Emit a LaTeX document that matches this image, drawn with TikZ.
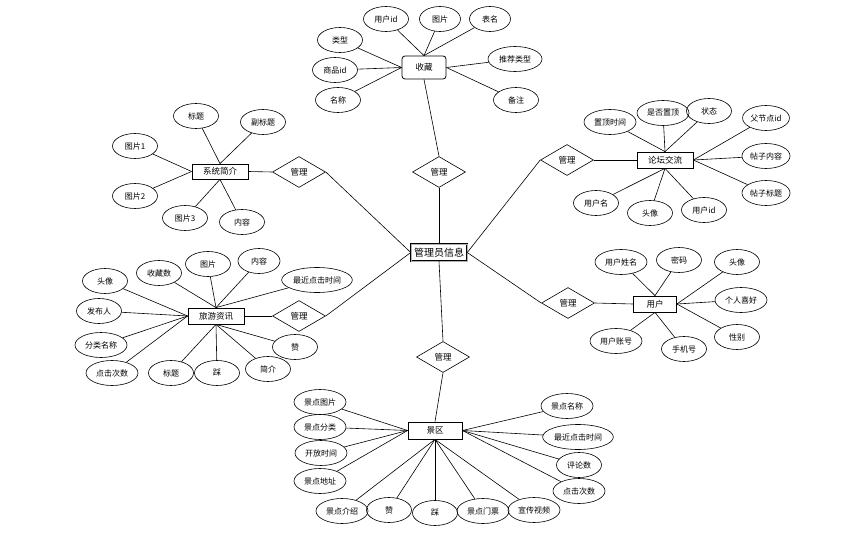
\documentclass[tikz,border=0pt]{standalone}
\usepackage{fontspec}
\newfontfamily\cjk{Noto Sans CJK SC}
\usepackage{tikz}
\usetikzlibrary{shapes.geometric}

\begin{document}
\begin{tikzpicture}[x=1pt, y=-1pt,
  every node/.style={font=\cjk\fontsize{8}{9}\selectfont},
  attr/.style={draw, ellipse, line width=0.6pt, minimum width=45pt, minimum height=25pt, inner sep=1pt},
  ent/.style={draw, rectangle, line width=0.8pt, minimum width=56pt, minimum height=16pt, inner sep=1pt, font=\cjk\fontsize{8.5}{9}\selectfont},
  rel/.style={draw, diamond, line width=0.6pt, minimum width=53pt, minimum height=31pt, inner sep=0pt, font=\cjk\fontsize{8.5}{9}\selectfont},
  link/.style={line width=0.6pt}]
  \useasboundingbox (0,0) rectangle (844,535);

  % centre
  \node[ent, line width=0.5pt, double=gray!60, double distance=0.6pt, minimum width=56pt, minimum height=17pt, font=\cjk\fontsize{10}{11}\selectfont] (admin) at (439,252.5) {管理员信息};

  % relationships
  \node[rel] (r1) at (439,172) {管理};
  \node[rel] (r2) at (299,172) {管理};
  \node[rel] (r3) at (299,316) {管理};
  \node[rel] (r4) at (443,357) {管理};
  \node[rel] (r5) at (567,160) {管理};
  \node[rel] (r6) at (568,303) {管理};

  % entities
  \node[ent, rounded corners=3pt, minimum width=44pt, minimum height=23pt] (fav) at (424,67.5) {收藏};
  \node[ent, minimum height=15pt] (intro) at (220,171.5) {系统简介};
  \node[ent] (forum) at (665,160) {论坛交流};
  \node[ent] (news) at (216,316) {旅游资讯};
  \node[ent, minimum width=43pt] (user) at (655,304) {用户};
  \node[ent, minimum width=54pt, minimum height=17pt] (spot) at (435,430.5) {景区};

  % main links
  \draw[link] (admin.north) -- (r1.south);
  \draw[link] (r1.north) -- (fav.south);
  \draw[link] (admin.west) -- (r2.east);
  \draw[link] (r2.west) -- (intro.east);
  \draw[link] (admin.west) -- (r3.east);
  \draw[link] (r3.west) -- (news.east);
  \draw[link] (admin.south) -- (r4.north);
  \draw[link] (r4.south) -- (spot.north);
  \draw[link] (admin.east) -- (r5.west);
  \draw[link] (r5.east) -- (forum.west);
  \draw[link] (admin.east) -- (r6.west);
  \draw[link] (r6.east) -- (user.west);

  % 收藏
  \node[attr] (f1) at (386,19) {用户id};
  \node[attr, minimum width=41pt] (f2) at (440,19) {图片};
  \node[attr, minimum width=41pt] (f3) at (490,19) {表名};
  \node[attr] (f4) at (340,40) {类型};
  \node[attr] (f5) at (335,70) {商品id};
  \node[attr] (f6) at (338,100) {名称};
  \node[attr, minimum width=54pt] (f7) at (515,59) {推荐类型};
  \node[attr] (f8) at (516,100) {备注};
  \foreach \a in {f1,f2,f3} \draw[link] (fav.north) -- (\a);
  \foreach \a in {f4,f5,f6} \draw[link] (fav.west) -- (\a);
  \foreach \a in {f7,f8} \draw[link] (fav.east) -- (\a);

  % 系统简介
  \node[attr] (i1) at (196,116) {标题};
  \node[attr] (i2) at (263,122) {副标题};
  \node[attr] (i3) at (135,146) {图片1};
  \node[attr] (i4) at (135,196) {图片2};
  \node[attr] (i5) at (185,218) {图片3};
  \node[attr] (i6) at (242,222) {内容};
  \foreach \a in {i1,i2} \draw[link] (intro.north) -- (\a);
  \foreach \a in {i3,i4} \draw[link] (intro.west) -- (\a);
  \foreach \a in {i5,i6} \draw[link] (intro.south) -- (\a);

  % 论坛交流
  \node[attr, minimum width=52pt] (b1) at (610,122) {置顶时间};
  \node[attr, minimum width=52pt] (b2) at (663,113) {是否置顶};
  \node[attr] (b3) at (709,111) {状态};
  \node[attr] (b4) at (766,118) {父节点id};
  \node[attr] (b5) at (766,156) {帖子内容};
  \node[attr] (b6) at (766,193) {帖子标题};
  \node[attr] (b7) at (596,203) {用户名};
  \node[attr] (b8) at (650,213) {头像};
  \node[attr] (b9) at (704,210) {用户id};
  \foreach \a in {b1,b2,b3} \draw[link] (forum.north) -- (\a);
  \foreach \a in {b4,b5,b6} \draw[link] (forum.east) -- (\a);
  \foreach \a in {b7,b8,b9} \draw[link] (forum.south) -- (\a);

  % 旅游资讯
  \node[attr] (n1) at (105,281) {头像};
  \node[attr] (n2) at (159,273) {收藏数};
  \node[attr] (n3) at (208,264) {图片};
  \node[attr, minimum width=42pt] (n4) at (259,261) {内容};
  \node[attr, minimum width=67pt] (n5) at (317,280) {最近点击时间};
  \node[attr] (n6) at (99,311) {发布人};
  \node[attr, minimum width=52pt] (n7) at (101,345) {分类名称};
  \node[attr, minimum width=52pt] (n8) at (112,373) {点击次数};
  \node[attr] (n9) at (171,373) {标题};
  \node[attr] (n10) at (217,373) {踩};
  \node[attr] (n11) at (268,369) {简介};
  \node[attr] (n12) at (295,347) {赞};
  \foreach \a in {n1,n6,n7,n8} \draw[link] (news.west) -- (\a);
  \foreach \a in {n2,n3,n4,n5} \draw[link] (news.north) -- (\a);
  \foreach \a in {n9,n10,n11,n12} \draw[link] (news.south) -- (\a);

  % 用户
  \node[attr, minimum width=52pt] (u1) at (621,262) {用户姓名};
  \node[attr] (u2) at (679,260) {密码};
  \node[attr] (u3) at (737,262) {头像};
  \node[attr, minimum width=52pt] (u4) at (741,300) {个人喜好};
  \node[attr] (u5) at (737,337) {性别};
  \node[attr] (u6) at (684,349) {手机号};
  \node[attr, minimum width=52pt] (u7) at (616,341) {用户账号};
  \foreach \a in {u1,u2} \draw[link] (user.north) -- (\a);
  \foreach \a in {u3,u4,u5} \draw[link] (user.east) -- (\a);
  \foreach \a in {u6,u7} \draw[link] (user.south) -- (\a);

  % 景区
  \node[attr, minimum width=52pt] (s1) at (320,402) {景点图片};
  \node[attr, minimum width=52pt] (s2) at (320,427) {景点分类};
  \node[attr, minimum width=52pt] (s3) at (321,453) {开放时间};
  \node[attr, minimum width=52pt] (s4) at (320,481) {景点地址};
  \node[attr, minimum width=52pt] (s5) at (342,511) {景点介绍};
  \node[attr] (s6) at (389,510) {赞};
  \node[attr] (s7) at (435,513) {踩};
  \node[attr, minimum width=52pt] (s8) at (483,511) {景点门票};
  \node[attr, minimum width=52pt] (s9) at (534,510) {宣传视频};
  \node[attr, minimum width=52pt] (s10) at (567,406) {景点名称};
  \node[attr, minimum width=67pt] (s11) at (578,437) {最近点击时间};
  \node[attr] (s12) at (579,465) {评论数};
  \node[attr, minimum width=52pt] (s13) at (579,491) {点击次数};
  \foreach \a in {s1,s2,s3,s4} \draw[link] (spot.west) -- (\a);
  \foreach \a in {s5,s6,s7,s8,s9} \draw[link] (spot.south) -- (\a);
  \foreach \a in {s10,s11,s12,s13} \draw[link] (spot.east) -- (\a);
\end{tikzpicture}
\end{document}
